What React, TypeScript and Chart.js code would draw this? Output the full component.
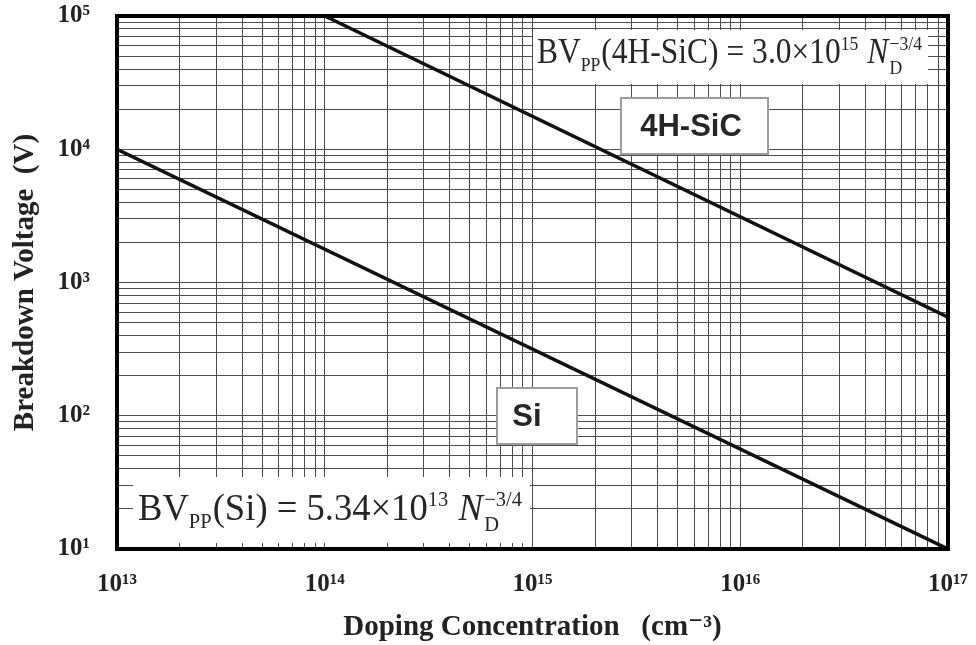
import React, { useEffect, useRef } from 'react';
import { Chart, registerables } from 'chart.js';

Chart.register(...registerables);

// ---- data ----
const xDecades = [13, 14, 15, 16, 17];
const yDecades = [1, 2, 3, 4, 5];
const xTickLabels = ['10¹³', '10¹⁴', '10¹⁵', '10¹⁶', '10¹⁷'];
const yTickLabels = ['10¹', '10²', '10³', '10⁴', '10⁵'];
const siDoping = [1e13, 1e17];
const siBV = [1e4, 10];
const sicDoping = [1e14, 1e17];
const sicBV = [1e5, 550];
const seriesNames = ['Si', '4H-SiC'];
const xTitle = 'Doping Concentration   (cm⁻³)';
const yTitle = 'Breakdown Voltage  (V)';

const SERIF = '"Liberation Serif", "Times New Roman", "DejaVu Serif", serif';
const SANS = '"Liberation Sans", Arial, "DejaVu Sans", sans-serif';

type Part = { t: string; k: 'n' | 'sub' | 'sup' | 'it' | 'stack'; sub?: string; sup?: string };

const siEquation: Part[] = [
  { t: 'BV', k: 'n' },
  { t: 'PP', k: 'sub' },
  { t: '(Si) = 5.34×10', k: 'n' },
  { t: '13', k: 'sup' },
  { t: ' ', k: 'n' },
  { t: 'N', k: 'it' },
  { t: '', k: 'stack', sub: 'D', sup: '−3/4' },
];
const sicEquation: Part[] = [
  { t: 'BV', k: 'n' },
  { t: 'PP', k: 'sub' },
  { t: '(4H-SiC) = 3.0×10', k: 'n' },
  { t: '15', k: 'sup' },
  { t: ' ', k: 'n' },
  { t: 'N', k: 'it' },
  { t: '', k: 'stack', sub: 'D', sup: '−3/4' },
];

function buildLogTicks(decades: number[]) {
  const ticks: { value: number }[] = [];
  for (let i = 0; i < decades.length; i++) {
    const base = Math.pow(10, decades[i]);
    if (i === decades.length - 1) {
      ticks.push({ value: base });
    } else {
      for (let k = 1; k <= 9; k++) ticks.push({ value: k * base });
    }
  }
  return ticks;
}

function labelFor(value: number, decades: number[], labels: string[]) {
  const e = Math.round(Math.log10(value));
  if (Math.abs(value - Math.pow(10, e)) < value * 1e-9) {
    const idx = decades.indexOf(e);
    return idx >= 0 ? labels[idx] : '';
  }
  return '';
}

function drawEquation(
  ctx: CanvasRenderingContext2D,
  parts: Part[],
  left: number,
  baseline: number,
  size: number,
  targetWidth: number
) {
  const small = size * 0.56;
  const fN = `${size}px ${SERIF}`;
  const fI = `italic ${size}px ${SERIF}`;
  const fS = `${small}px ${SERIF}`;
  const widthOf = (p: Part) => {
    if (p.k === 'n') { ctx.font = fN; return ctx.measureText(p.t).width; }
    if (p.k === 'it') { ctx.font = fI; return ctx.measureText(p.t).width + size * 0.04; }
    if (p.k === 'sub' || p.k === 'sup') { ctx.font = fS; return ctx.measureText(p.t).width + size * 0.03; }
    ctx.font = fS;
    return Math.max(ctx.measureText(p.sub || '').width, ctx.measureText(p.sup || '').width);
  };
  let natural = 0;
  parts.forEach((p) => (natural += widthOf(p)));
  const sx = targetWidth / natural;
  ctx.save();
  ctx.translate(left, baseline);
  ctx.scale(sx, 1);
  ctx.fillStyle = '#262626';
  ctx.textBaseline = 'alphabetic';
  ctx.textAlign = 'left';
  let cx = 0;
  parts.forEach((p) => {
    const w = widthOf(p);
    if (p.k === 'n') { ctx.font = fN; ctx.fillText(p.t, cx, 0); }
    else if (p.k === 'it') { ctx.font = fI; ctx.fillText(p.t, cx, 0); }
    else if (p.k === 'sub') { ctx.font = fS; ctx.fillText(p.t, cx, size * 0.22); }
    else if (p.k === 'sup') { ctx.font = fS; ctx.fillText(p.t, cx, -size * 0.38); }
    else {
      ctx.font = fS;
      ctx.fillText(p.sub || '', cx, size * 0.3);
      ctx.fillText(p.sup || '', cx, -size * 0.38);
    }
    cx += w;
  });
  ctx.restore();
}

const annotationPlugin = {
  id: 'annotations',
  afterDatasetsDraw(chart: any) {
    const ctx: CanvasRenderingContext2D = chart.ctx;
    ctx.save();
    // Si equation panel
    ctx.fillStyle = '#ffffff';
    ctx.fillRect(133, 477, 397, 66);
    drawEquation(ctx, siEquation, 138, 520, 37, 384);
    // 4H-SiC equation panel
    ctx.fillStyle = '#ffffff';
    ctx.fillRect(533, 30, 395, 54);
    drawEquation(ctx, sicEquation, 537, 63, 35, 385);

    // label boxes
    const box = (x: number, y: number, w: number, h: number, text: string, tx: number) => {
      ctx.fillStyle = '#ffffff';
      ctx.fillRect(x, y, w, h);
      ctx.strokeStyle = '#9c9c9c';
      ctx.lineWidth = 2;
      ctx.strokeRect(x, y, w, h);
      ctx.fillStyle = '#262626';
      ctx.font = `bold 31px ${SANS}`;
      ctx.textAlign = 'center';
      ctx.textBaseline = 'middle';
      ctx.fillText(text, tx, y + h / 2 + 1);
    };
    box(621, 98, 147, 56, seriesNames[1], 691);
    box(497, 388, 80, 56, seriesNames[0], 527);
    ctx.restore();
  },
  afterDraw(chart: any) {
    const { ctx, chartArea } = chart;
    ctx.save();
    ctx.strokeStyle = '#000';
    ctx.lineWidth = 4;
    ctx.strokeRect(chartArea.left, chartArea.top, chartArea.right - chartArea.left, chartArea.bottom - chartArea.top);
    ctx.restore();
  },
};

export default function App() {
  const ref = useRef<HTMLCanvasElement | null>(null);
  useEffect(() => {
    if (!ref.current) return;
    const chart = new Chart(ref.current, {
      type: 'line',
      data: {
        datasets: [
          {
            label: seriesNames[0],
            data: siDoping.map((x, i) => ({ x, y: siBV[i] })),
            borderColor: '#111',
            borderWidth: 3.5,
            pointRadius: 0,
            fill: false,
          },
          {
            label: seriesNames[1],
            data: sicDoping.map((x, i) => ({ x, y: sicBV[i] })),
            borderColor: '#111',
            borderWidth: 3.5,
            pointRadius: 0,
            fill: false,
          },
        ],
      },
      options: {
        responsive: false,
        animation: false,
        devicePixelRatio: 1,
        layout: { padding: { top: 16, right: 28, left: 0, bottom: 0 } },
        plugins: {
          legend: { display: false },
          tooltip: { enabled: false },
          title: { display: false },
        },
        scales: {
          x: {
            type: 'logarithmic',
            min: 1e13,
            max: 1e17,
            afterBuildTicks: (scale: any) => { scale.ticks = buildLogTicks(xDecades); },
            afterFit: (scale: any) => {
              scale.height = 96;
              scale.paddingLeft = 0;
              scale.paddingRight = 0;
              scale.paddingTop = 0;
              scale.paddingBottom = 0;
            },
            grid: { color: '#4d4d4d', lineWidth: 1, drawTicks: false },
            border: { display: false },
            ticks: {
              autoSkip: false,
              maxRotation: 0,
              padding: 21,
              color: '#222',
              font: { family: SERIF, size: 25, weight: 'bold' },
              callback: (v: any) => labelFor(Number(v), xDecades, xTickLabels),
            },
            title: {
              display: true,
              text: xTitle,
              color: '#222',
              font: { family: SERIF, size: 29, weight: 'bold' },
              padding: { top: 0, bottom: 0 },
            },
          },
          y: {
            type: 'logarithmic',
            min: 10,
            max: 1e5,
            afterBuildTicks: (scale: any) => { scale.ticks = buildLogTicks(yDecades); },
            afterFit: (scale: any) => {
              scale.width = 117;
              scale.paddingLeft = 0;
              scale.paddingRight = 0;
              scale.paddingTop = 0;
              scale.paddingBottom = 0;
            },
            grid: { color: '#4d4d4d', lineWidth: 1, drawTicks: false },
            border: { display: false },
            ticks: {
              autoSkip: false,
              padding: 27,
              color: '#222',
              font: { family: SERIF, size: 25, weight: 'bold' },
              callback: (v: any) => labelFor(Number(v), yDecades, yTickLabels),
            },
            title: {
              display: true,
              text: yTitle,
              color: '#222',
              font: { family: SERIF, size: 29, weight: 'bold' },
              padding: { top: 8, bottom: 0 },
            },
          },
        },
      },
      plugins: [annotationPlugin],
    } as any);
    return () => chart.destroy();
  }, []);
  return (
    <div style={{ position: 'absolute', left: 0, top: 0, width: 976, height: 645, background: '#fff' }}>
      <canvas ref={ref} width={976} height={645} style={{ display: 'block' }} />
    </div>
  );
}
